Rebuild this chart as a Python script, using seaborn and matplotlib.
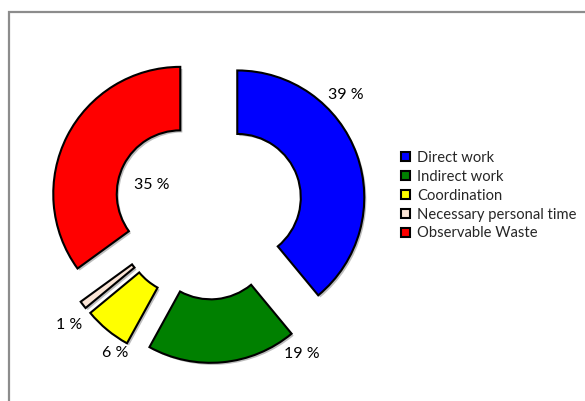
import matplotlib
matplotlib.use("Agg")
import matplotlib.pyplot as plt
import matplotlib.patheffects as pe
from matplotlib.patches import Rectangle, Patch
import seaborn as sns

# ---- data ----
categories = ["Direct work", "Indirect work", "Coordination",
              "Necessary personal time", "Observable Waste"]
values = [39, 19, 6, 1, 35]
pct_labels = ["39 %", "19 %", "6 %", "1 %", "35 %"]

# ---- style ----
colors = ["#0000FF", "#008000", "#FFFF00", "#FBE5D6", "#FF0000"]
# label positions in pie units (relative to pie centre, radius = 1)
label_pos = [(1.087, 0.890), (0.740, -1.150), (-0.732, -1.140),
             (-1.094, -0.921), (-0.441, 0.181)]

sns.set_theme(style="white")
plt.rcParams["font.family"] = ["Lato", "DejaVu Sans"]

W, H = 585, 401
fig = plt.figure(figsize=(W / 100, H / 100), dpi=100)

# pie centre / radius in pixels
cx, cy, R = 208, 208, 127
half_w, half_h = 190, 190
ax = fig.add_axes([(cx - half_w) / W, (H - cy - half_h) / H,
                   2 * half_w / W, 2 * half_h / H])

shadow = [pe.SimplePatchShadow(offset=(1.5, -1.5), shadow_rgbFace="#888888", alpha=0.55),
          pe.Normal()]

wedges, _ = ax.pie(values, colors=colors, startangle=90, counterclock=False,
                   explode=[0.245, 0.22, 0.245, 0.245, 0.245], radius=1,
                   wedgeprops=dict(width=0.5, edgecolor="black", linewidth=1.5))
for w in wedges:
    w.set_path_effects(shadow)

ax.set_xlim(-half_w / R, half_w / R)
ax.set_ylim(-half_h / R, half_h / R)
ax.set_aspect("equal")
ax.axis("off")

for (x, y), t in zip(label_pos, pct_labels):
    ax.text(x, y, t, ha="center", va="center", fontsize=11.5, color="black")

handles = [Patch(facecolor=c, edgecolor="black", linewidth=1.5) for c in colors]
fig.legend(handles, categories, loc="upper left",
           bbox_to_anchor=(401 / W, 1 - 151 / H), frameon=False,
           fontsize=10.6, handlelength=0.6, handleheight=0.6,
           handletextpad=0.5, labelspacing=0.33, borderpad=0, borderaxespad=0)

fig.patches.append(Rectangle((9 / W, -0.1), 1.2, (H - 12) / H + 0.1,
                             transform=fig.transFigure, fill=False,
                             edgecolor="#8c8c8c", linewidth=1.6))

fig.savefig("out.png", dpi=100, facecolor="white")
